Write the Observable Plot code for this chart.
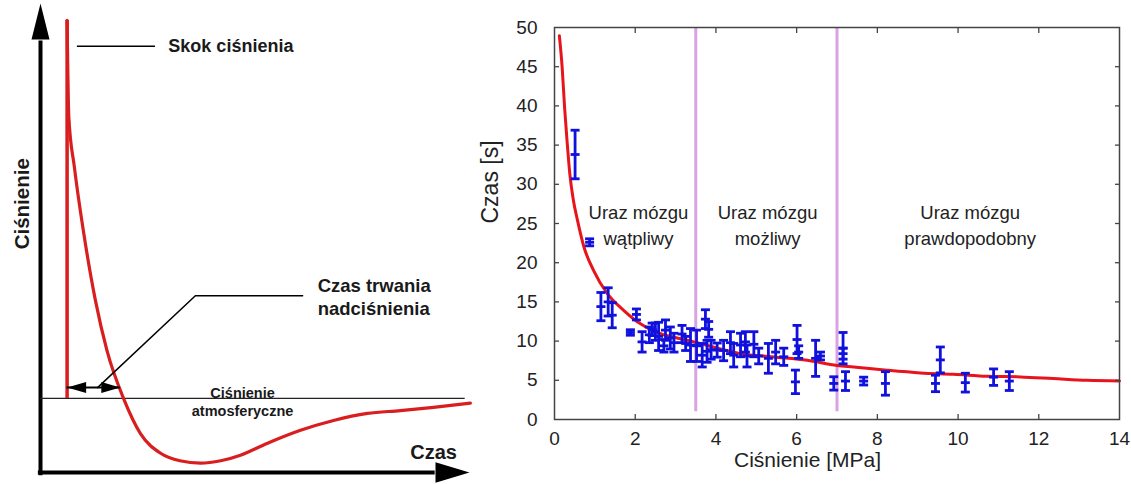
<!DOCTYPE html>
<html><head><meta charset="utf-8">
<script src="https://cdn.jsdelivr.net/npm/d3@7"></script>
<script src="https://cdn.jsdelivr.net/npm/@observablehq/plot@0.6"></script>
<style>
body{margin:0;background:#fff;}
#wrap{position:relative;width:1131px;height:484px;overflow:hidden;background:#fff;}
#left{position:absolute;left:0;top:0;}
#right{position:absolute;left:480px;top:0;}
</style></head><body><div id="wrap"><div id="left"></div><div id="right"></div></div>
<script>
// ---------- Left schematic (arbitrary units: time 0..100, pressure 0..100) ----------
const waveTime     = [6.2, 6.6, 7.9, 10.1, 12.8, 15.5, 19.4, 23.3, 28.0, 32.5, 37.3, 42.0, 46.6, 52.8, 60.6, 68.3, 76.2, 83.9, 91.6, 100.2];
const wavePressure = [96.4, 75.8, 65.1, 50.9, 36.7, 26.0, 15.7, 8.3, 4.1, 2.5, 2.0, 2.5, 3.7, 6.2, 9.0, 11.1, 12.6, 13.2, 13.9, 14.8];
const shockTime = 6.2, shockTop = 96.4;
const atmPressure = 15.8, atmEnd = 99;
const durationStart = 6.2, durationEnd = 18.6, durationLevel = 18.1;
const leaderTime = [13.3, 36.1, 61.1];
const leaderPressure = [18.1, 37.7, 37.7];
const skokLeader = {x1: 8.6, x2: 26.8, y: 90.9};
const axisTop = 100, axisRight = 100;
const skokLabel = {t: 29.8, p: 90.9, text: "Skok ciśnienia"};
const durationLabel = {t: 64.6, p: 37.6, text: "Czas trwania\nnadciśnienia"};
const atmLabel = {t: 47.1, p: 15.25, text: "Ciśnienie\natmosferyczne"};
const timeAxisLabel = {t: 86.2, p: 4.3, text: "Czas"};
const pressureAxisLabel = {t: -4.2, p: 57.3, text: "Ciśnienie"};

// ---------- Right chart data ----------
const pressure = [0.51, 0.87, 1.15, 1.33, 1.43, 1.88, 2.03, 2.17, 2.35, 2.42, 2.5, 2.58, 2.71, 2.75, 2.87, 2.96, 3.16, 3.25, 3.37, 3.52, 3.66, 3.74, 3.78, 3.82, 3.88, 4.03, 4.19, 4.36, 4.44, 4.61, 4.73, 4.77, 4.94, 5.06, 5.3, 5.48, 5.68, 5.97, 6.01, 6.05, 6.47, 6.59, 6.92, 7.15, 7.15, 7.21, 7.66, 8.2, 9.44, 9.56, 10.18, 10.88, 11.27];
const time     = [33.8, 22.6, 14.4, 15.0, 13.3, 11.1, 13.4, 9.9, 10.8, 11.5, 11.2, 10.6, 9.4, 11.4, 10.4, 9.8, 10.9, 9.7, 9.5, 9.4, 8.2, 12.8, 8.7, 11.5, 8.9, 8.85, 8.8, 9.8, 8.2, 9.5, 9.9, 8.1, 9.6, 8.1, 7.8, 8.6, 8.0, 4.8, 10.2, 8.6, 7.8, 8.1, 4.6, 9.1, 8.4, 4.9, 4.9, 4.6, 4.6, 7.6, 4.7, 5.4, 4.9];
const timeErr  = [3.1, 0.45, 1.8, 1.8, 1.6, 0.35, 0.7, 1.3, 1.0, 0.8, 1.1, 1.8, 0.8, 1.3, 1.4, 1.2, 1.1, 0.9, 2.1, 2.0, 1.5, 1.2, 1.4, 1.0, 1.2, 0.9, 1.3, 1.4, 1.5, 1.5, 1.3, 1.4, 1.6, 1.0, 1.9, 1.5, 1.1, 1.5, 1.8, 0.8, 2.3, 0.5, 0.85, 2.0, 0.7, 1.2, 0.5, 1.5, 1.05, 1.65, 1.2, 1.05, 1.2];
const fitPressure = [0.12, 0.19, 0.25, 0.31, 0.38, 0.47, 0.57, 0.73, 0.97, 1.31, 1.72, 2.13, 2.63, 3.12, 3.45, 4.61, 5.43, 6.26, 7.0, 7.41, 8.24, 9.07, 9.89, 10.72, 11.55, 12.36, 13.2, 14.0];
const fitTime     = [48.96, 44.9, 39.8, 35.6, 31.3, 27.9, 25.4, 22.0, 19.0, 16.05, 13.9, 12.2, 10.96, 10.3, 9.9, 8.4, 7.97, 7.55, 6.9, 6.7, 6.28, 5.94, 5.77, 5.52, 5.43, 5.22, 5.0, 4.92];
const thresholds = [3.5, 7.0];
const thresholdSpan = [1, 50];
const regionX = [2.08, 5.28, 10.3];
const regionText = ["Uraz mózgu\nwątpliwy", "Uraz mózgu\nmożliwy", "Uraz mózgu\nprawdopodobny"];
const regionY = 25.0;
const xTicks = [0, 2, 4, 6, 8, 10, 12, 14];
const yTicks = [0, 5, 10, 15, 20, 25, 30, 35, 40, 45, 50];
const xLabel = "Ciśnienie [MPa]", xLabelAt = 6.27;
const yLabel = "Czas [s]";

// ---------- symbols ----------
const rad = s => Math.sqrt(s / Math.PI);
const hbar = {draw(c, s){ const r = rad(s); c.moveTo(-r, 0); c.lineTo(r, 0); }};
const triUp = {draw(c, s){ const r = rad(s); c.moveTo(0, -r); c.lineTo(r * 0.5, r); c.lineTo(-r * 0.5, r); c.closePath(); }};
const triRight = {draw(c, s){ const r = rad(s); c.moveTo(r, 0); c.lineTo(-r, -r * 0.6); c.lineTo(-r, r * 0.6); c.closePath(); }};
const triR2 = {draw(c, s){ const r = rad(s); c.moveTo(r, 0); c.lineTo(-r, -r * 0.58); c.lineTo(-r, r * 0.58); c.closePath(); }};
const triL2 = {draw(c, s){ const r = rad(s); c.moveTo(-r, 0); c.lineTo(r, -r * 0.58); c.lineTo(r, r * 0.58); c.closePath(); }};

const wave = waveTime.map((t, i) => ({t, p: wavePressure[i]}));
const leader = leaderTime.map((t, i) => ({t, p: leaderPressure[i]}));
const RED = "#d81e1e";
const TXT = "#1a1a1a";

const left = Plot.plot({
  width: 480, height: 484,
  marginLeft: 40, marginRight: 11, marginTop: 3, marginBottom: 12,
  x: {domain: [0, 100], axis: null},
  y: {domain: [0, 100], axis: null},
  style: {fontFamily: "'Liberation Sans', Arial, sans-serif", background: "#fff", overflow: "visible"},
  marks: [
    // axes
    Plot.ruleX([0], {y1: -0.7, y2: 92, stroke: "#000", strokeWidth: 4}),
    Plot.ruleY([0], {x1: -0.5, x2: 92, stroke: "#000", strokeWidth: 4}),
    Plot.dot([0], {x: 0, y: axisTop, symbol: triUp, r: 18, fill: "#000", stroke: null, dy: 18}),
    Plot.dot([0], {x: axisRight, y: 0, symbol: triRight, r: 17, fill: "#000", stroke: null, dx: -17}),
    // atmospheric line
    Plot.ruleY([atmPressure], {x1: 0, x2: atmEnd, stroke: "#222", strokeWidth: 1.2}),
    // shock
    Plot.ruleX([shockTime], {y1: atmPressure, y2: shockTop, stroke: RED, strokeWidth: 3.5}),
    Plot.line(wave, {x: "t", y: "p", stroke: RED, strokeWidth: 3.2, curve: "monotone-x"}),
    // duration double arrow
    Plot.ruleY([durationLevel], {x1: durationStart, x2: durationEnd, stroke: "#000", strokeWidth: 2}),
    Plot.dot([0], {x: durationStart, y: durationLevel, symbol: triL2, r: 9.5, fill: "#000", stroke: null, dx: 9.5}),
    Plot.dot([0], {x: durationEnd, y: durationLevel, symbol: triR2, r: 9.5, fill: "#000", stroke: null, dx: -9.5}),
    // leaders
    Plot.line(leader, {x: "t", y: "p", stroke: "#000", strokeWidth: 1.5}),
    Plot.ruleY([skokLeader.y], {x1: skokLeader.x1, x2: skokLeader.x2, stroke: "#000", strokeWidth: 1.5}),
    // labels
    Plot.text([skokLabel], {x: "t", y: "p", text: "text", textAnchor: "start", fontSize: 18, fontWeight: "bold", fill: TXT}),
    Plot.text([durationLabel], {x: "t", y: "p", text: "text", textAnchor: "start", fontSize: 18.5, fontWeight: "bold", fill: TXT, lineHeight: 1.25}),
    Plot.text([atmLabel], {x: "t", y: "p", text: "text", textAnchor: "middle", fontSize: 14.5, fontWeight: "bold", fill: TXT, lineHeight: 1.3}),
    Plot.text([timeAxisLabel], {x: "t", y: "p", text: "text", textAnchor: "start", fontSize: 20, fontWeight: "bold", fill: TXT}),
    Plot.text([pressureAxisLabel], {x: "t", y: "p", text: "text", rotate: -90, fontSize: 20.5, fontWeight: "bold", fill: TXT})
  ]
});
document.getElementById("left").appendChild(left);

// ---------- right chart ----------
const pts = pressure.map((x, i) => ({x, y: time[i], e: timeErr[i]}));
const fit = fitPressure.map((x, i) => ({x, y: fitTime[i]}));
const regions = regionX.map((x, i) => ({x, text: regionText[i]}));
const BLUE = "#1111dd";
const FRAME = "#444";
const innerX = xTicks.slice(1, -1), innerY = yTicks.slice(1, -1);

const right = Plot.plot({
  width: 651, height: 484,
  marginLeft: 74, marginRight: 12, marginTop: 27, marginBottom: 65,
  x: {domain: [0, 14]},
  y: {domain: [0, 50]},
  style: {fontFamily: "'Liberation Sans', Arial, sans-serif", fontSize: "19px", color: "#222", background: "#fff", overflow: "visible"},
  marks: [
    Plot.ruleX(thresholds, {y1: thresholdSpan[0], y2: thresholdSpan[1], stroke: "#d9a3e3", strokeWidth: 3}),
    Plot.line(fit, {x: "x", y: "y", stroke: "#e8141c", strokeWidth: 3, curve: "monotone-x"}),
    Plot.ruleX(pts, {x: "x", y1: d => d.y - d.e, y2: d => d.y + d.e, stroke: BLUE, strokeWidth: 2.8}),
    Plot.dot(pts, {x: "x", y: d => d.y + d.e, symbol: hbar, r: 4.5, stroke: BLUE, fill: "none", strokeWidth: 2.8}),
    Plot.dot(pts, {x: "x", y: d => d.y - d.e, symbol: hbar, r: 4.5, stroke: BLUE, fill: "none", strokeWidth: 2.8}),
    Plot.dot(pts, {x: "x", y: "y", symbol: hbar, r: 4.5, stroke: BLUE, fill: "none", strokeWidth: 2.8}),
    Plot.text(regions, {x: "x", y: regionY, text: "text", fontSize: 18.5, lineHeight: 1.4, fill: "#222"}),
    Plot.frame({stroke: FRAME, strokeWidth: 1.5}),
    // inward mirror ticks
    Plot.axisX(innerX, {anchor: "bottom", tickSize: 5, dy: -5, tickFormat: () => "", label: null, stroke: FRAME, strokeWidth: 1.3}),
    Plot.axisX(innerX, {anchor: "top", tickSize: 5, dy: 5, tickFormat: () => "", label: null, stroke: FRAME, strokeWidth: 1.3}),
    Plot.axisY(innerY, {anchor: "left", tickSize: 5, dx: 5, tickFormat: () => "", label: null, stroke: FRAME, strokeWidth: 1.3}),
    Plot.axisY(innerY, {anchor: "right", tickSize: 5, dx: -5, tickFormat: () => "", label: null, stroke: FRAME, strokeWidth: 1.3}),
    // tick labels
    Plot.axisX(xTicks, {anchor: "bottom", tickSize: 0, tickPadding: 12, label: null, fontSize: 19}),
    Plot.axisY(yTicks, {anchor: "left", tickSize: 0, tickPadding: 17, label: null, fontSize: 19}),
    Plot.text([xLabel], {x: xLabelAt, frameAnchor: "bottom", dy: 47, fontSize: 21, fill: "#222"}),
    Plot.text([yLabel], {frameAnchor: "left", dx: -64, rotate: -90, fontSize: 23, fill: "#222"})
  ]
});
document.getElementById("right").appendChild(right);
</script>
</body></html>
